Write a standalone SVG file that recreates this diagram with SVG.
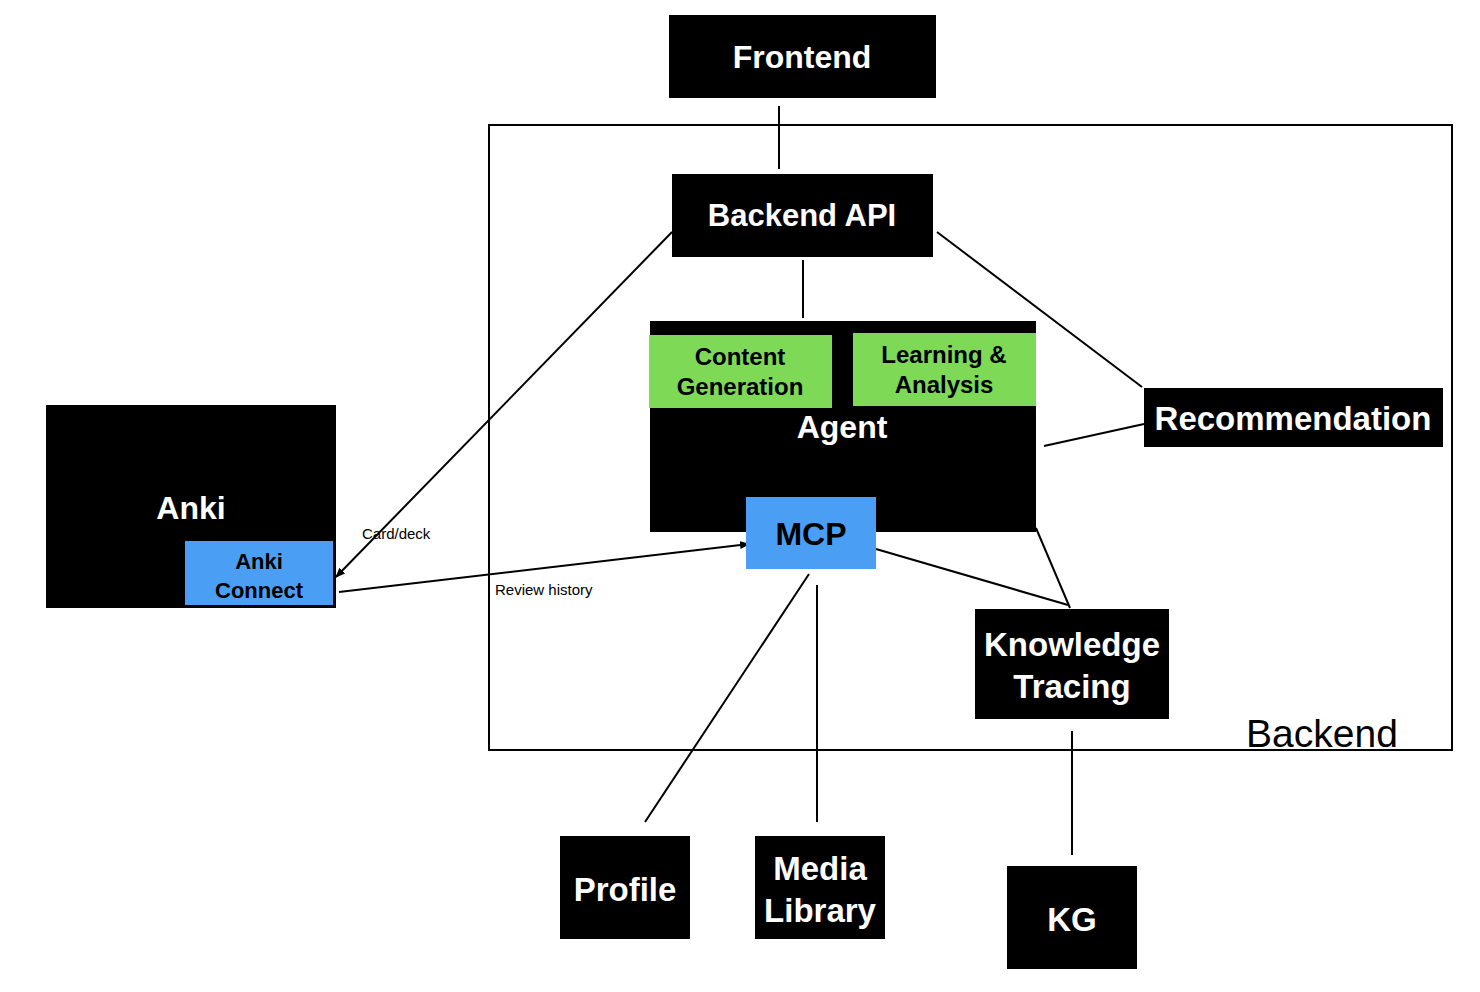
<svg xmlns="http://www.w3.org/2000/svg" width="1480" height="992" viewBox="0 0 1480 992">
<defs>
<marker id="arr" viewBox="0 0 10 10" refX="9" refY="5" markerWidth="10" markerHeight="10" markerUnits="userSpaceOnUse" orient="auto">
<path d="M0,1 L10,5 L0,9 z" fill="#000"/>
</marker>
<style>
.blk{fill:#000}
.grn{fill:#7ed957}
.blu{fill:#4a9ff5}
.wt{fill:#fff;font-family:"Liberation Sans",Arial,sans-serif;font-weight:bold;text-anchor:middle}
.bt{fill:#000;font-family:"Liberation Sans",Arial,sans-serif;font-weight:bold;text-anchor:middle}
.lbl{fill:#000;font-family:"Liberation Sans",Arial,sans-serif;font-size:15px}
.ln{stroke:#000;stroke-width:2;fill:none}
</style>
</defs>
<rect width="1480" height="992" fill="#fff"/>
<g id="backend">
<rect x="489" y="125" width="963" height="625" fill="none" stroke="#000" stroke-width="2"/>
<text x="1322" y="747" font-family="Liberation Sans,Arial,sans-serif" font-size="39" text-anchor="middle" fill="#000">Backend</text>
</g>
<g id="connectors">
<line class="ln" x1="779" y1="106" x2="779" y2="169"/>
<line class="ln" x1="803" y1="260" x2="803" y2="318"/>
<line class="ln" x1="937" y1="232" x2="1142" y2="387"/>
<line class="ln" x1="1044" y1="446" x2="1144" y2="424"/>
<line class="ln" x1="672" y1="232" x2="336" y2="577" marker-end="url(#arr)"/>
<line class="ln" x1="339" y1="592" x2="749" y2="544" marker-end="url(#arr)"/>
<line class="ln" x1="876" y1="549" x2="1068" y2="605"/>
<line class="ln" x1="1036" y1="528" x2="1070" y2="608"/>
<line class="ln" x1="1072" y1="731" x2="1072" y2="855"/>
<line class="ln" x1="809" y1="574" x2="645" y2="822"/>
<line class="ln" x1="817" y1="585" x2="817" y2="822"/>
<text class="lbl" x="362" y="539">Card/deck</text>
<text class="lbl" x="495" y="595">Review history</text>
</g>
<g id="frontend">
<rect class="blk" x="669" y="15" width="267" height="83"/>
<text class="wt" x="802" y="68" font-size="32">Frontend</text>
</g>
<g id="backend-api">
<rect class="blk" x="672" y="174" width="261" height="83"/>
<text class="wt" x="802" y="226" font-size="31">Backend API</text>
</g>
<g id="agent">
<rect class="blk" x="650" y="321" width="386" height="211"/>
<text class="wt" x="842" y="438" font-size="32">Agent</text>
</g>
<g id="content-generation">
<rect class="grn" x="649" y="335" width="183" height="73"/>
<text class="bt" x="740" y="365" font-size="24">Content</text>
<text class="bt" x="740" y="395" font-size="24">Generation</text>
</g>
<g id="learning-analysis">
<rect class="grn" x="853" y="333" width="183" height="73"/>
<text class="bt" x="944" y="363" font-size="24">Learning &amp;</text>
<text class="bt" x="944" y="393" font-size="24">Analysis</text>
</g>
<g id="mcp">
<rect class="blu" x="746" y="497" width="130" height="72"/>
<text class="bt" x="811" y="545" font-size="32">MCP</text>
</g>
<g id="recommendation">
<rect class="blk" x="1144" y="388" width="299" height="59"/>
<text class="wt" x="1293" y="430" font-size="33">Recommendation</text>
</g>
<g id="knowledge-tracing">
<rect class="blk" x="975" y="609" width="194" height="110"/>
<text class="wt" x="1072" y="656" font-size="33">Knowledge</text>
<text class="wt" x="1072" y="698" font-size="33">Tracing</text>
</g>
<g id="kg">
<rect class="blk" x="1007" y="866" width="130" height="103"/>
<text class="wt" x="1072" y="931" font-size="33">KG</text>
</g>
<g id="profile">
<rect class="blk" x="560" y="836" width="130" height="103"/>
<text class="wt" x="625" y="901" font-size="33">Profile</text>
</g>
<g id="media-library">
<rect class="blk" x="755" y="836" width="130" height="103"/>
<text class="wt" x="820" y="880" font-size="33">Media</text>
<text class="wt" x="820" y="922" font-size="33">Library</text>
</g>
<g id="anki">
<rect class="blk" x="46" y="405" width="290" height="203"/>
<text class="wt" x="191" y="519" font-size="32">Anki</text>
</g>
<g id="anki-connect">
<rect class="blu" x="185" y="541" width="148" height="64"/>
<text class="bt" x="259" y="569" font-size="22">Anki</text>
<text class="bt" x="259" y="598" font-size="22">Connect</text>
</g>
</svg>
